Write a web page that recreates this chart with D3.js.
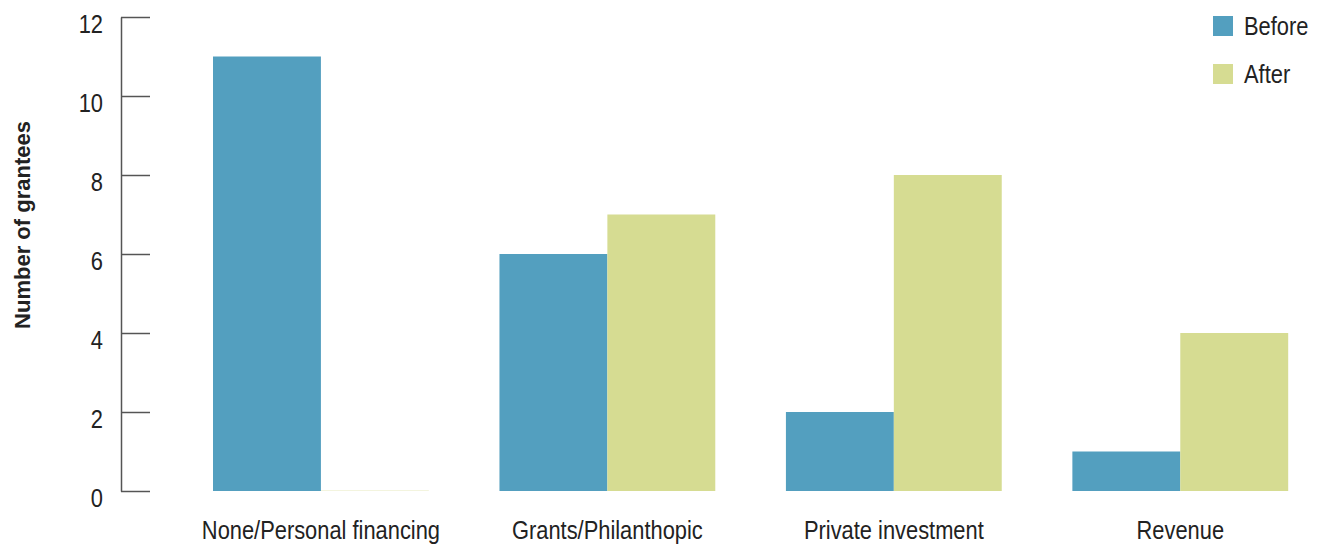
<!DOCTYPE html>
<html>
<head>
<meta charset="utf-8">
<script src="https://cdn.jsdelivr.net/npm/d3@7"></script>
<style>
  html, body { margin: 0; padding: 0; background: #fff; }
  svg text { font-family: "Liberation Sans", Arial, sans-serif; fill: #222; }
</style>
</head>
<body>
<svg id="chart" width="1320" height="546"></svg>
<script>
// Funding sources of grantees, before and after the programme
const categories = ["None/Personal financing", "Grants/Philanthopic", "Private investment", "Revenue"];
const seriesNames = ["Before", "After"];
const beforeValues = [11, 6, 2, 1];
const afterValues = [0, 7, 8, 4];
const yTicks = [0, 2, 4, 6, 8, 10, 12];
const colors = ["#539fbf", "#d6dc92"];

// horizontal squeeze that gives the labels a condensed look
const narrow = "scale(0.875,1)";

const svg = d3.select("#chart");

const y = d3.scaleLinear().domain([0, 12]).range([491, 17]);

const x0 = d3.scaleBand()
  .domain(categories)
  .range([177.2, 1324])
  .paddingInner(0.2466)
  .paddingOuter(0.125);

const x1 = d3.scaleBand()
  .domain(seriesNames)
  .range([0, x0.bandwidth()]);

const rows = categories.map((c, i) => ({
  category: c,
  values: [
    { key: "Before", value: beforeValues[i] },
    { key: "After", value: afterValues[i] }
  ]
}));

// Y axis: line on the left, ticks pointing into the plot
const yAxis = d3.axisRight(y).tickValues(yTicks).tickSize(29).tickSizeOuter(0).tickFormat(d3.format("d"));
const gy = svg.append("g").attr("transform", "translate(121,0)").call(yAxis);
gy.select(".domain").attr("stroke", "#555").attr("stroke-width", 1.5);
gy.selectAll(".tick line").attr("stroke", "#555").attr("stroke-width", 1.5);
gy.selectAll(".tick text")
  .attr("x", 0)
  .attr("dy", "0.62em")
  .attr("text-anchor", "end")
  .attr("transform", "translate(-18,0) " + narrow)
  .style("font-size", "25px")
  .attr("fill", "#222");

// Bars
const groups = svg.append("g").selectAll("g")
  .data(rows)
  .join("g")
  .attr("transform", d => `translate(${x0(d.category)},0)`);

groups.selectAll("rect")
  .data(d => d.values)
  .join("rect")
  .attr("x", d => x1(d.key))
  .attr("width", x1.bandwidth())
  .attr("y", d => d.value > 0 ? y(d.value) : y(0) - 1)
  .attr("height", d => d.value > 0 ? y(0) - y(d.value) : 1)
  .attr("fill", (d, i) => colors[i])
  .attr("fill-opacity", d => d.value > 0 ? 1 : 0.3);

// Category labels
const xAxis = d3.axisBottom(x0).tickSize(0);
const gx = svg.append("g").attr("transform", "translate(0,491)").call(xAxis);
gx.select(".domain").remove();
gx.selectAll(".tick text")
  .attr("y", 0)
  .attr("dy", 0)
  .attr("transform", "translate(0,48) " + narrow)
  .style("font-size", "25px")
  .attr("fill", "#222");

// Y axis title
svg.append("text")
  .attr("transform", "translate(30,225) rotate(-90)")
  .attr("text-anchor", "middle")
  .style("font-weight", "bold")
  .style("font-size", "22px")
  .text("Number of grantees");

// Legend
const legend = svg.append("g").selectAll("g")
  .data(seriesNames)
  .join("g")
  .attr("transform", (d, i) => `translate(1213,${16 + i * 48})`);
legend.append("rect").attr("width", 20).attr("height", 20).attr("fill", (d, i) => colors[i]);
legend.append("text")
  .attr("transform", "translate(31,10) " + narrow)
  .attr("dy", "0.36em")
  .style("font-size", "25px")
  .text(d => d);
</script>
</body>
</html>
